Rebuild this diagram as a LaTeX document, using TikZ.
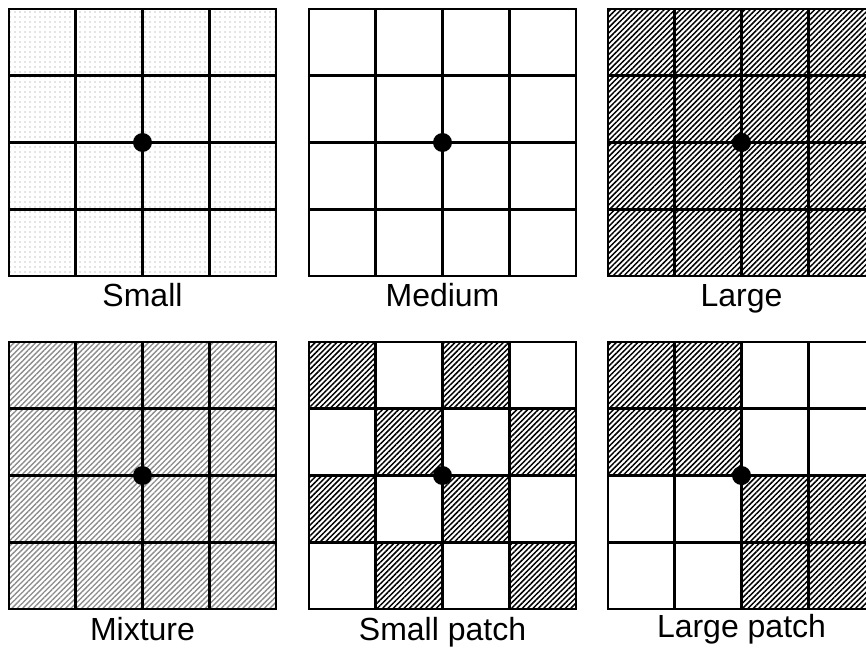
\documentclass[tikz,border=0pt]{standalone}
\usepackage{fontspec}
\setmainfont{Liberation Sans}
\usetikzlibrary{calc,patterns.meta}

\tikzset{
  gridline/.style={line width=2.8pt},
  hatchdark/.style={pattern={Lines[angle=45,distance=3.8pt,line width=1.5pt]}, pattern color=black},
  hatchlight/.style={pattern={Lines[angle=45,distance=3.8pt,line width=1.4pt]}, pattern color=black!45},
  dotfill/.style={pattern={Dots[distance=5pt,radius=0.6pt]}, pattern color=black!45},
  caption/.style={anchor=base, font=\fontsize{32}{38}\selectfont}
}

\begin{document}
\begin{tikzpicture}[x=1pt,y=-1pt]

% Parameters
\pgfmathsetmacro{\cell}{66.75}
\pgfmathsetmacro{\side}{4*\cell}

\useasboundingbox (0,0) rectangle (866,647);
\clip (0,0) rectangle (866,647);

% Panel corners
\coordinate (S) at (9,9);
\coordinate (M) at (309,9);
\coordinate (L) at (608,9);
\coordinate (X) at (9,342);
\coordinate (SP) at (309,342);
\coordinate (LP) at (608,342);

% Fills of whole panels
\fill[dotfill] (S) rectangle ++(\side,\side);
\fill[hatchdark] (L) rectangle ++(\side,\side);
\fill[hatchlight] (X) rectangle ++(\side,\side);

% Small patch: checkerboard
\foreach \i in {0,...,3}
  \foreach \j in {0,...,3} {
    \pgfmathparse{int(mod(\i+\j,2))}
    \ifnum\pgfmathresult=0
      \fill[hatchdark] ($(SP)+(\i*\cell,\j*\cell)$) rectangle ++(\cell,\cell);
    \fi
  }

% Large patch: two blocks
\fill[hatchdark] (LP) rectangle ++(2*\cell,2*\cell);
\fill[hatchdark] ($(LP)+(2*\cell,2*\cell)$) rectangle ++(2*\cell,2*\cell);

% Grids and centre points
\foreach \p in {S,M,L,X,SP,LP} {
  \draw[gridline] (\p) rectangle ++(\side,\side);
  \foreach \k in {1,2,3} {
    \draw[gridline] ($(\p)+(\k*\cell,0)$) -- ++(0,\side);
    \draw[gridline] ($(\p)+(0,\k*\cell)$) -- ++(\side,0);
  }
  \fill ($(\p)+(2*\cell,2*\cell)$) circle (9.5);
}

% Labels
\node[caption] (smallcap) at (142.5,306) {Small};
\node[caption] (mediumcap) at (442.5,306) {Medium};
\node[caption] (largecap) at (741.5,306) {Large};
\node[caption] (mixcap) at (142.5,640) {Mixture};
\node[caption] (smallpatchcap) at (442.5,640) {Small patch};
\node[caption] (largepatchcap) at (741.5,637) {Large patch};

\end{tikzpicture}
\end{document}
